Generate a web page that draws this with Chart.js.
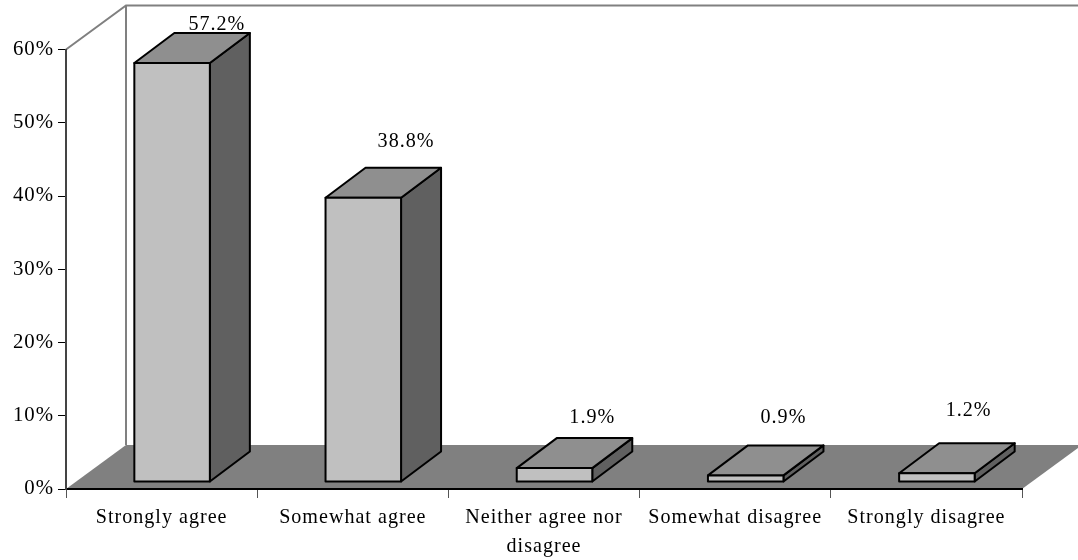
<!DOCTYPE html>
<html>
<head>
<meta charset="utf-8">
<style>
html, body { margin: 0; padding: 0; background: #fff; overflow: hidden; }
canvas { display: block; }
</style>
<script src="https://cdn.jsdelivr.net/npm/chart.js@4"></script>
</head>
<body>
<canvas id="chart" width="1078" height="560"></canvas>
<script>
let categories = ['Strongly agree', 'Somewhat agree', ['Neither agree nor', 'disagree'], 'Somewhat disagree', 'Strongly disagree'];
let values = [57.2, 38.8, 1.9, 0.9, 1.2];
let yTicks = [0, 10, 20, 30, 40, 50, 60];

// the labels sit a bit irregularly in the picture, [dx, dy] from the back right top corner
let labelNudge = [[-33, -8], [-35, -26], [-40, -20], [-40, -28], [-46, -32]];

const fontName = '"Liberation Serif", serif';
const fontSize = 20.1;
const spacing = '1px';

const wallX = 60, wallY = 44;   // depth of the whole box
const barX = 40, barY = 30;     // depth of a bar
const shiftX = 10.5, shiftY = 7;  // bars stand in the middle of the floor

function poly(ctx, pts, fill, stroke, lw) {
	ctx.beginPath();
	ctx.moveTo(pts[0][0], pts[0][1]);
	for (let i = 1; i < pts.length; i++) ctx.lineTo(pts[i][0], pts[i][1]);
	ctx.closePath();
	if (fill) { ctx.fillStyle = fill; ctx.fill(); }
	if (stroke) { ctx.strokeStyle = stroke; ctx.lineWidth = lw; ctx.lineJoin = 'round'; ctx.stroke(); }
}

let box3d = {
	id: 'box3d',
	beforeLayout(chart) {
		chart.ctx.letterSpacing = spacing;
	},
	beforeDraw(chart) {
		let ctx = chart.ctx;
		let a = chart.chartArea;
		ctx.letterSpacing = spacing;
		ctx.save();
		// floor
		poly(ctx, [[a.left, a.bottom], [a.left + wallX, a.bottom - wallY], [a.right + wallX, a.bottom - wallY], [a.right, a.bottom]], '#808080');
		// back wall lines
		ctx.strokeStyle = '#808080';
		ctx.lineWidth = 2;
		ctx.beginPath();
		ctx.moveTo(a.left, a.top);
		ctx.lineTo(a.left + wallX, a.top - wallY);
		ctx.lineTo(a.right + wallX, a.top - wallY);
		ctx.moveTo(a.left + wallX, a.top - wallY);
		ctx.lineTo(a.left + wallX, a.bottom - wallY);
		ctx.stroke();
		ctx.restore();
	},
	beforeDatasetDraw(chart) {
		let ctx = chart.ctx;
		let bars = chart.getDatasetMeta(0).data;
		ctx.save();
		ctx.translate(shiftX, -shiftY);
		bars.forEach(b => {
			let l = b.x - b.width / 2, r = b.x + b.width / 2;
			poly(ctx, [[r, b.y], [r + barX, b.y - barY], [r + barX, b.base - barY], [r, b.base]], '#606060', '#000', 2);
			poly(ctx, [[l, b.y], [l + barX, b.y - barY], [r + barX, b.y - barY], [r, b.y]], '#8f8f8f', '#000', 2);
		});
		// front face is the real Chart.js bar, restored in afterDatasetDraw
	},
	afterDatasetDraw(chart) {
		let ctx = chart.ctx;
		let bars = chart.getDatasetMeta(0).data;
		// Chart.js insets its border, so the outline of the front goes here
		bars.forEach(b => {
			let l = b.x - b.width / 2, r = b.x + b.width / 2;
			poly(ctx, [[l, b.y], [r, b.y], [r, b.base], [l, b.base]], null, '#000', 2);
		});
		ctx.restore();
		ctx.save();
		ctx.font = fontSize + 'px ' + fontName;
		ctx.fillStyle = '#000';
		ctx.textAlign = 'center';
		ctx.textBaseline = 'middle';
		bars.forEach((b, i) => {
			let r = b.x + b.width / 2 + shiftX + barX;
			let top = b.y - shiftY - barY;
			ctx.fillText(values[i].toFixed(1) + '%', r + labelNudge[i][0], top + labelNudge[i][1]);
		});
		ctx.restore();
	}
};

new Chart(document.getElementById('chart'), {
	type: 'bar',
	data: {
		labels: categories,
		datasets: [{
			data: values,
			backgroundColor: '#c0c0c0',
			borderWidth: 0,
			categoryPercentage: 0.79,
			barPercentage: 0.5
		}]
	},
	options: {
		responsive: false,
		animation: false,
		plugins: { legend: { display: false }, tooltip: { enabled: false } },
		layout: { padding: { top: 49.5, right: 56, left: 0, bottom: 0 } },
		scales: {
			x: {
				grid: { offset: true, drawOnChartArea: false, tickLength: 9, color: '#555' },
				border: { color: '#000', width: 2 },
				ticks: {
					color: '#000',
					padding: 5,
					maxRotation: 0,
					autoSkip: false,
					font: { family: fontName, size: fontSize, lineHeight: 1.45 }
				},
				afterFit(scale) { scale.height = 71; }
			},
			y: {
				min: 0,
				max: 60,
				afterBuildTicks(scale) { scale.ticks = yTicks.map(v => ({ value: v })); },
				grid: { drawOnChartArea: false, tickLength: 8, color: '#000' },
				border: { color: '#444', width: 2 },
				ticks: {
					color: '#000',
					padding: 4,
					callback: v => v + '%',
					font: { family: fontName, size: 20.8 }
				},
				afterFit(scale) { scale.width = 66; }
			}
		}
	},
	plugins: [box3d]
});
</script>
</body>
</html>
